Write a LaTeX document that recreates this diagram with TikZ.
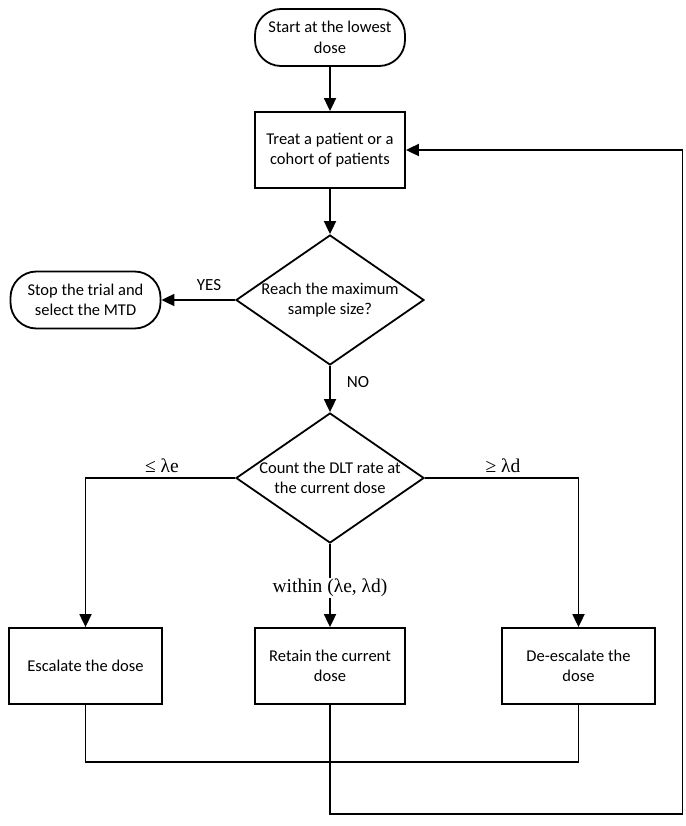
\documentclass[tikz,border=0pt]{standalone}
\usepackage{fontspec}
\setmainfont{Carlito}
\newfontfamily\tnr{Liberation Serif}
\usetikzlibrary{shapes.geometric,arrows.meta}
\tikzset{
  base/.style={draw=black, line width=1.8pt, align=center, font=\fontsize{16.5}{20.5}\selectfont, inner sep=2pt},
  term/.style={base, rounded corners=26pt, minimum width=150pt, minimum height=57pt},
  proc/.style={base, rectangle, minimum width=150pt, minimum height=76pt},
  dec/.style={draw=black, line width=1.8pt, diamond, minimum width=188pt, minimum height=130pt, inner sep=0pt},
  dtext/.style={font=\fontsize{16.5}{20.5}\selectfont, align=center},
  conn/.style={line width=1.8pt},
  arr/.style={conn, -{Triangle[length=13pt,width=12pt]}},
  lab/.style={font=\fontsize{17}{20}\selectfont, inner sep=1pt},
  glab/.style={font=\tnr\fontsize{19.5}{22}\selectfont, inner sep=1pt}
}
\begin{document}
\begin{tikzpicture}[x=1pt,y=-1pt]
\useasboundingbox (0,0) rectangle (685,826);
\node[term] (start) at (330,37.5) {Start at the lowest\\dose};
\node[proc] (treat) at (330,150) {Treat a patient or a\\cohort of patients};
\node[dec, label={[dtext]center:Reach the maximum\\sample size?}] (d1) at (330,300) {};
\node[term] (stop) at (85.5,300) {Stop the trial and\\select the MTD};
\node[dec, label={[dtext]center:Count the DLT rate at\\the current dose}] (d2) at (330,478) {};
\node[proc, minimum width=153pt] (esc) at (85.5,666) {Escalate the dose};
\node[proc] (ret) at (330,666) {Retain the current\\dose};
\node[proc, minimum width=153pt] (desc) at (578.5,666) {De-escalate the\\dose};

\coordinate (jl) at (85.5,762);
\coordinate (jr) at (578.5,762);
\coordinate (rb) at (330,814);
\coordinate (rr) at (682.5,814);

\draw[arr] (start) -- (treat);
\draw[arr] (treat) -- (d1);
\draw[arr] (d1.west) -- (stop.east);
\node[lab] (yes) at (209,285) {YES};
\draw[arr] (d1.south) -- (d2.north);
\node[lab] (no) at (358,382) {NO};
\draw[arr] (d2.west) -| (esc.north);
\draw[arr] (d2.east) -| (desc.north);
\node[glab] (le) at (162,466) {≤ λe};
\node[glab] (ge) at (503,466) {≥ λd};
\draw[arr] (d2.south) -- node[glab, fill=white, pos=0.53] (within) {within (λe, λd)} (ret.north);
\draw[conn] (esc.south) -- (jl) -- (jr) -- (desc.south);
\draw[arr] (ret.south) -- (rb) -- (rr) |- (treat.east);
\end{tikzpicture}
\end{document}
